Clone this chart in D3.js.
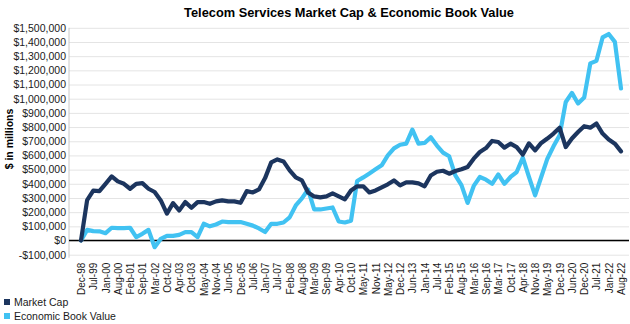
<!DOCTYPE html>
<html>
<head>
<meta charset="utf-8">
<script src="https://cdn.jsdelivr.net/npm/d3@7"></script>
<style>
	body { margin: 0; background: #fff; }
	svg { font-family: "Liberation Sans", Arial, sans-serif; }
	.grid line { stroke: #e4e4e4; stroke-width: 1; }
	.grid path { display: none; }
	.yaxis path { stroke: #c8c8c8; }
	.yaxis text, .xaxis text { fill: #1a1a1a; }
	.xaxis path { display: none; }
</style>
</head>
<body>
<div id="chart"></div>
<script>
// tick labels on the category axis, one every second data point
const tick_labels = ["Dec-98","Jul-99","Jan-00","Aug-00","Feb-01","Sep-01","Mar-02","Oct-02","Apr-03","Oct-03",
	"May-04","Nov-04","Jun-05","Dec-05","Jul-06","Jan-07","Jul-07","Feb-08","Aug-08","Mar-09",
	"Sep-09","Apr-10","Oct-10","May-11","Nov-11","May-12","Dec-12","Jun-13","Jan-14","Jul-14",
	"Feb-15","Aug-15","Mar-16","Sep-16","Mar-17","Oct-17","Apr-18","Nov-18","May-19","Dec-19",
	"Jun-20","Dec-20","Jul-21","Jan-22","Aug-22"];

// $ in millions
const market_cap = [0,285000,352000,348000,400000,452000,417000,400000,365000,400000,
	405000,365000,342000,283000,190000,264000,212000,271000,231000,271000,
	271000,259000,276000,283000,276000,276000,266000,348000,339000,360000,
	440000,551000,572000,558000,495000,445000,424000,339000,311000,304000,
	311000,332000,311000,290000,353000,382000,382000,339000,353000,375000,
	396000,424000,389000,410000,410000,403000,382000,459000,485000,492000,
	471000,490000,502000,518000,577000,624000,652000,702000,695000,655000,
	683000,659000,606000,685000,636000,688000,719000,754000,796000,659000,
	719000,765000,806000,796000,825000,754000,712000,683000,629000];

const book_value = [0,75000,66000,65000,52000,90000,88000,88000,90000,24000,
	47000,75000,-47000,12000,33000,33000,40000,59000,59000,24000,
	118000,100000,113000,134000,130000,130000,130000,118000,105000,85000,
	60000,118000,118000,127000,163000,247000,297000,360000,220000,219000,
	226000,233000,134000,127000,140000,420000,445000,473000,502000,530000,
	600000,650000,675000,683000,782000,683000,688000,728000,670000,620000,
	594000,459000,391000,265000,385000,448000,429000,400000,466000,400000,
	448000,483000,584000,448000,318000,448000,577000,664000,742000,977000,
	1041000,966000,1008000,1249000,1267000,1432000,1456000,1401000,1072000];

const series_names = ["Market Cap", "Economic Book Value"];
const series_colors = ["#1c355e", "#41c2f2"];

const width = 630, height = 324;
const left = 69, right = 629, top_y = 27.8, bottom_y = 254.7;

let svg = d3.select("#chart").append("svg").attr("width", width).attr("height", height);

svg.append("text")
	.attr("x", 349).attr("y", 17)
	.attr("text-anchor", "middle")
	.attr("font-size", "12.8px").attr("font-weight", "bold")
	.text("Telecom Services Market Cap & Economic Book Value");

let x = d3.scaleLinear().domain([0, market_cap.length - 1]).range([81, 621]);
let y = d3.scaleLinear().domain([-100000, 1500000]).range([bottom_y, top_y]);
let y_ticks = d3.range(-100000, 1500001, 100000);

// gridlines
svg.append("g")
	.attr("class", "grid")
	.attr("transform", `translate(${left},0)`)
	.call(d3.axisLeft(y).tickValues(y_ticks).tickSize(-(right - left)).tickFormat(""));

let money = d3.format(",");
svg.append("g")
	.attr("class", "yaxis")
	.attr("transform", `translate(${left},0)`)
	.call(d3.axisLeft(y).tickValues(y_ticks).tickSize(0).tickPadding(3)
		.tickFormat(v => v < 0 ? "-$" + money(-v) : "$" + money(v)))
	.call(g => g.selectAll("text").attr("font-size", "10.5px"))
	.call(g => g.select(".domain").attr("d", `M0,${top_y}V${bottom_y + 3}`));

svg.append("text")
	.attr("transform", `translate(13,139) rotate(-90)`)
	.attr("text-anchor", "middle")
	.attr("font-size", "10.5px").attr("font-weight", "bold")
	.text("$ in millions");

// x labels, rotated
svg.append("g")
	.attr("class", "xaxis")
	.attr("transform", `translate(0,${bottom_y + 3})`)
	.call(d3.axisBottom(x).tickValues(tick_labels.map((d, i) => i * 2)).tickSize(0)
		.tickFormat((d, i) => tick_labels[i]))
	.call(g => g.selectAll("text")
		.attr("font-size", "10px")
		.attr("text-anchor", "end")
		.attr("transform", "rotate(-90)")
		.attr("x", -5).attr("y", 0).attr("dy", "0.35em"));

// zero line
svg.append("line")
	.attr("x1", left).attr("x2", right)
	.attr("y1", y(0)).attr("y2", y(0))
	.attr("stroke", "#000").attr("stroke-width", 1.5);

let line = d3.line().x((d, i) => x(i)).y(d => y(d));

[book_value, market_cap].forEach((data, k) => {
	svg.append("path")
		.attr("d", line(data))
		.attr("fill", "none")
		.attr("stroke", series_colors[1 - k])
		.attr("stroke-width", 4.2)
		.attr("stroke-linejoin", "round")
		.attr("stroke-linecap", "round");
});

// legend
let legend = svg.append("g").attr("font-size", "10.5px");
series_names.forEach((name, i) => {
	legend.append("rect")
		.attr("x", 4).attr("y", 299 + i * 14)
		.attr("width", 6).attr("height", 6)
		.attr("fill", series_colors[i]);
	legend.append("text")
		.attr("x", 14).attr("y", 306 + i * 14)
		.attr("fill", "#1a1a1a")
		.text(name);
});
</script>
</body>
</html>
